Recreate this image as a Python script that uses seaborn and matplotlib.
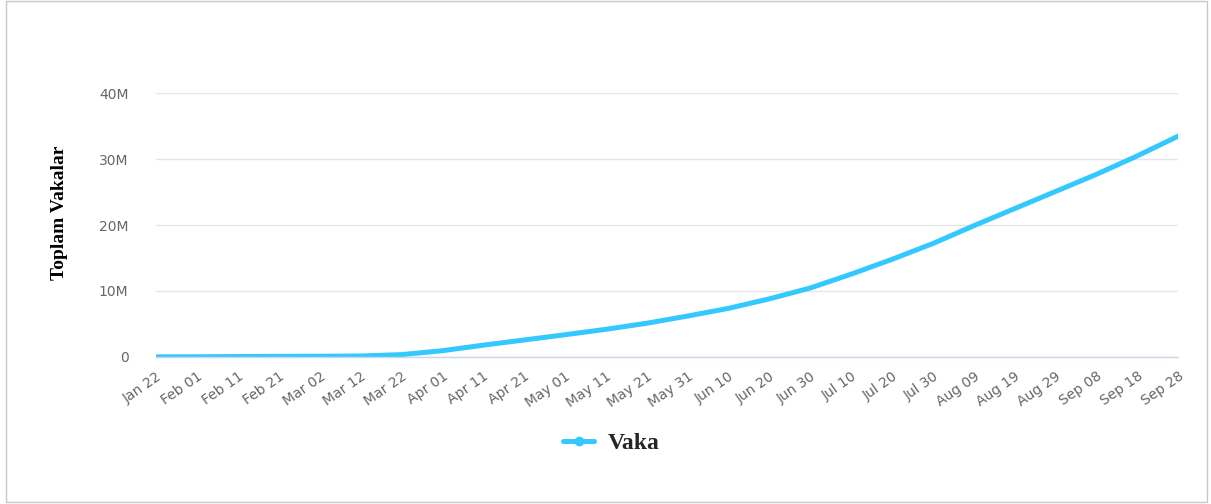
import matplotlib
matplotlib.use("Agg")
import matplotlib.pyplot as plt
import matplotlib.dates as mdates
from matplotlib.lines import Line2D
from matplotlib.patches import Rectangle
import pandas as pd
import seaborn as sns

# cumulative cases, read at 10-day steps
dates = ["2020-01-22", "2020-02-01", "2020-02-11", "2020-02-21", "2020-03-02",
         "2020-03-12", "2020-03-22", "2020-04-01", "2020-04-11", "2020-04-21",
         "2020-05-01", "2020-05-11", "2020-05-21", "2020-05-31", "2020-06-10",
         "2020-06-20", "2020-06-30", "2020-07-10", "2020-07-20", "2020-07-30",
         "2020-08-09", "2020-08-19", "2020-08-29", "2020-09-08", "2020-09-18",
         "2020-09-28"]
cases = [555, 12000, 45000, 77000, 90000,
         128000, 337000, 930000, 1770000, 2560000,
         3350000, 4180000, 5100000, 6190000, 7360000,
         8800000, 10450000, 12550000, 14800000, 17200000,
         19900000, 22500000, 25100000, 27700000, 30500000,
         33500000]
y_ticks = [0, 10e6, 20e6, 30e6, 40e6]
y_labels = ["0", "10M", "20M", "30M", "40M"]

df = pd.DataFrame({"Tarih": pd.to_datetime(dates), "Vaka": cases})

sns.set_style("white")
plt.rcParams["font.family"] = ["DejaVu Sans"]

fig = plt.figure(figsize=(12.11, 5.04), dpi=100)
ax = fig.add_axes([0.129, 0.292, 0.844, 0.523])

line_color = "#33c9ff"
sns.lineplot(data=df, x="Tarih", y="Vaka", ax=ax, color=line_color, linewidth=3.6)

ax.set_xlim(df["Tarih"].iloc[0], df["Tarih"].iloc[-1])
ax.set_ylim(0, 40e6)
ax.set_yticks(y_ticks)
ax.set_yticklabels(y_labels)
ax.set_xticks(df["Tarih"])
ax.xaxis.set_major_formatter(mdates.DateFormatter("%b %d"))
plt.setp(ax.get_xticklabels(), rotation=35, ha="right", rotation_mode="anchor")
ax.tick_params(axis="both", length=0, labelsize=10, colors="#666666")
ax.tick_params(axis="y", pad=20)
ax.tick_params(axis="x", pad=9)

ax.grid(axis="y", color="#e6e6e6", linewidth=1)
ax.grid(axis="x", visible=False)
for side in ["left", "right", "top"]:
    ax.spines[side].set_visible(False)
ax.spines["bottom"].set_color("#ccd6eb")
ax.spines["bottom"].set_linewidth(1)

ax.set_xlabel("")
ax.set_ylabel("Toplam Vakalar", family=["Liberation Serif"], fontweight="bold",
              fontsize=14, color="black")
ax.yaxis.set_label_coords(-0.086, 0.545)

handle = Line2D([0], [0], color=line_color, linewidth=3.6, marker="o", markersize=6)
fig.legend([handle], ["Vaka"], loc="center", bbox_to_anchor=(0.505, 0.121),
           frameon=False, handlelength=1.3, handletextpad=0.6,
           prop={"family": "Liberation Serif", "weight": "bold", "size": 17})

fig.patches.append(Rectangle((0.005, 0.004), 0.992, 0.994, transform=fig.transFigure,
                             fill=False, edgecolor="#c8c8c8", linewidth=1))

fig.savefig("out.png", dpi=100)
